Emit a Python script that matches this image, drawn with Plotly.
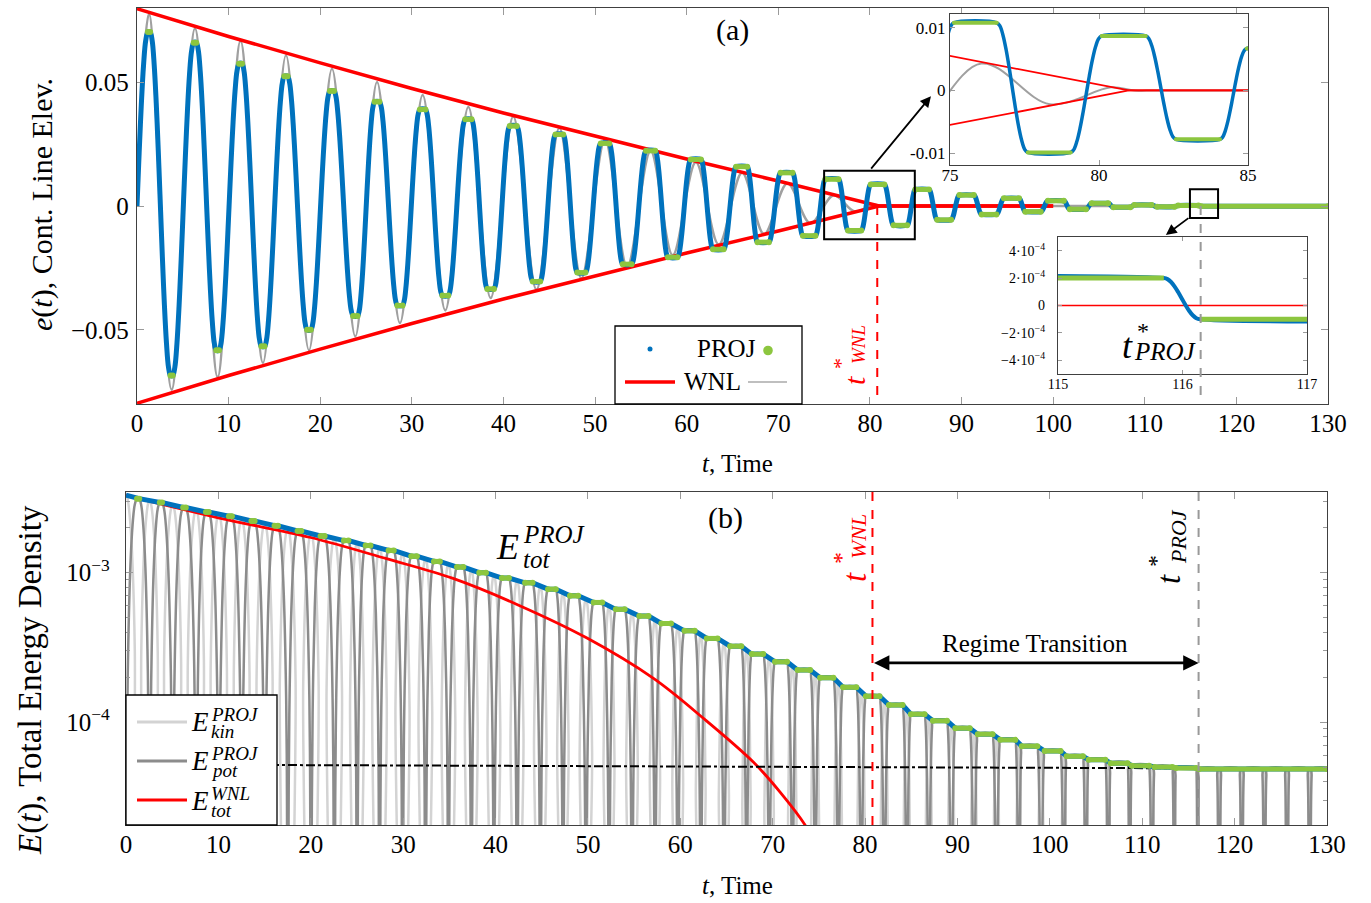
import math
import plotly.graph_objects as go

W, H = 1371, 903
FONT = "Liberation Serif"

# ---------------- data ----------------
# Panel (a): PROJ contact-line elevation, times / values of the plateaus (extrema)
ext_t = [1.31, 3.78, 6.33, 8.8, 11.3, 13.75, 16.26, 18.77,
         21.28, 23.83, 26.2, 28.7, 31.18, 33.65, 36.17, 38.6,
         41.07, 43.6, 46.1, 48.5, 51.08, 53.5, 56.06, 58.47,
         61.0, 63.45, 66.0, 68.35, 70.9, 73.37, 75.85, 78.33, 80.83,
         83.32, 85.7, 88.1, 90.55, 93.0, 95.45, 97.8, 100.3, 102.7, 105.1, 107.5, 109.8, 112.3, 114.75]
proj_ext = [0.0703, -0.0685, 0.0660, -0.0583, 0.0575, -0.0567, 0.0524, -0.0500,
            0.0465, -0.0444, 0.0421, -0.0402, 0.0390, -0.0362, 0.0350, -0.0335,
            0.0323, -0.0305, 0.0289, -0.0269, 0.0253, -0.0235, 0.0223, -0.0207,
            0.0188, -0.0175, 0.0159, -0.0146, 0.0134, -0.0120, 0.0108, -0.0099, 0.0087,
            -0.0078, 0.0067, -0.0056, 0.0044, -0.0034, 0.0031, -0.0023, 0.0021, -0.0013, 0.0011, -0.0005, 0.0004, -0.0003, 0.0002]
plateau_hw = [0.12, 0.12, 0.14, 0.15, 0.16, 0.17, 0.18, 0.20,
              0.22, 0.24, 0.26, 0.28, 0.30, 0.32, 0.34, 0.36,
              0.38, 0.40, 0.42, 0.44, 0.46, 0.48, 0.50, 0.52,
              0.55, 0.58, 0.60, 0.62, 0.65, 0.68, 0.72, 0.72, 0.74,
              0.74, 0.74, 0.76, 0.78, 0.80, 0.82, 0.84, 0.86, 0.88, 0.90, 0.92, 0.94, 0.96, 1.10]
proj_tail_t = [116.14, 130.0]
proj_tail_v = -0.0001

# WNL solution (grey) extrema and WNL amplitude envelope (red)
gray_t = [0, 1.31, 3.78, 6.33, 8.8, 11.3, 13.75, 16.26, 18.77, 21.28,
          23.83, 26.2, 28.7, 31.18, 33.65, 36.17, 38.6, 41.07, 43.6, 46.1,
          48.5, 51.08, 53.5, 56.06, 58.47, 61.0, 63.5, 66.05, 68.45, 71.0,
          73.5, 76.05, 78.35, 80.4, 81.2, 82.0, 130]
gray_v = [0, 0.0777, -0.0742, 0.0717, -0.0691, 0.0667, -0.0634, 0.0609, -0.0583, 0.0555,
          -0.0527, 0.0501, -0.0473, 0.0448, -0.0422, 0.0400, -0.0372, 0.0362, -0.0338, 0.0315,
          -0.0292, 0.0268, -0.0245, 0.0222, -0.0199, 0.0177, -0.0156, 0.0134, -0.0114, 0.0092,
          -0.0070, 0.0043, -0.0022, 0.0005, 0, 0, 0]
env_t = [0, 10, 20, 30, 40, 50, 60, 70, 81.0, 100]
env_v = [0.0797, 0.0685, 0.0578, 0.0475, 0.0376, 0.0282, 0.0190, 0.0101, 0.0, 0.0]
zero_t = [115, 117]
zero_v = [0, 0]
t_wnl = 80.8
t_proj = 116.1

# Panel (b): total energy of PROJ at each plateau, WNL energy, dash-dot level
E_start = 3.3e-3
etot_ext = [3.13e-3, 2.95e-3, 2.73e-3, 2.55e-3, 2.39e-3, 2.22e-3, 2.06e-3, 1.90e-3,
            1.76e-3, 1.64e-3, 1.52e-3, 1.41e-3, 1.29e-3, 1.19e-3, 1.09e-3, 1.00e-3,
            9.2e-4, 8.55e-4, 7.76e-4, 7.0e-4, 6.32e-4, 5.68e-4, 5.12e-4, 4.57e-4,
            4.08e-4, 3.63e-4, 3.22e-4, 2.85e-4, 2.53e-4, 2.23e-4, 1.98e-4, 1.71e-4, 1.49e-4,
            1.30e-4, 1.13e-4, 1.02e-4, 9.1e-5, 8.3e-5, 7.6e-5, 6.9e-5, 6.4e-5, 5.9e-5, 5.6e-5, 5.3e-5, 5.1e-5, 5.0e-5, 4.92e-5]
etot_tail = 4.85e-5
# kinetic / potential exchange keeps going after t*_PROJ
tail_t = [117.1, 119.55, 122.0, 124.45, 126.9, 129.35, 131.8]
tail_v = [-1e-4, 1e-4, -1e-4, 1e-4, -1e-4, 1e-4, -1e-4]
tail_hw = [0.96, 0.96, 0.96, 0.96, 0.96, 0.96, 0.96]
tail_E = [4.85e-5, 4.85e-5, 4.85e-5, 4.85e-5, 4.85e-5, 4.85e-5, 4.85e-5]
wnl_t = [0, 10, 20, 28.2, 35.4, 42.5, 49.9, 57.1, 62.5, 67.9, 70.8, 73.5, 75.5]
wnl_E = [3.3e-3, 2.33e-3, 1.72e-3, 1.24e-3, 9.15e-4, 6.06e-4, 3.65e-4, 1.96e-4, 1.06e-4, 5.4e-5, 3.4e-5, 2.05e-5, 1.2e-5]
dd_t = [0, 116.1]
dd_E = [5.2e-5, 4.9e-5]

# tick labels
x_ticks = [0, 10, 20, 30, 40, 50, 60, 70, 80, 90, 100, 110, 120, 130]
ya_ticks = [-0.05, 0, 0.05]
ya_text = ["\u22120.05", "0", "0.05"]
yb_ticks = [1e-4, 1e-3]
yb_text = ["10<sup>\u22124</sup>", "10<sup>\u22123</sup>"]
yb_minor = [3e-5, 4e-5, 5e-5, 6e-5, 7e-5, 8e-5, 9e-5, 2e-4, 3e-4, 4e-4, 5e-4, 6e-4, 7e-4, 8e-4, 9e-4, 2e-3, 3e-3]
in1_x = [75, 80, 85]
in1_y = [-0.01, 0, 0.01]
in1_ytext = ["-0.01", "0", "0.01"]
in2_x = [115, 116, 117]
in2_y = [-4e-4, -2e-4, 0, 2e-4, 4e-4]
in2_ytext = ["\u22124\u00b710<sup>\u22124</sup>", "\u22122\u00b710<sup>\u22124</sup>", "0",
             "2\u00b710<sup>\u22124</sup>", "4\u00b710<sup>\u22124</sup>"]

# ---------------- drawing style constants ----------------
BLUE = "#0072BD"
GREEN = "#8CC63F"
RED = "#FF0000"
GRAY = "#A0A0A0"
# normalised shape of a swing between two plateaus (drawing style)
PROFILE_F = [0.0, 0.1, 0.2, 0.3, 0.4, 0.45, 0.5, 0.55, 0.6, 0.7, 0.8, 0.9, 1.0]
PROFILE_S = [0.0, 0.0245, 0.0955, 0.2061, 0.3455, 0.4218, 0.5, 0.5782, 0.6545, 0.7939, 0.9045, 0.9755, 1.0]
FLOOR = 1e-8


def swing(ta, tb, va, vb, Ea, Eb, f0, out):
    for f, s in zip(PROFILE_F, PROFILE_S):
        if f >= 1.0:
            continue
        if not (f > f0 or (f0 > 0 and f == f0)):
            continue
        g = (f - f0) / (1 - f0)
        t = ta + g * (tb - ta)
        e = va + (vb - va) * s
        E = Ea ** (1 - g) * Eb ** g
        if abs(e) < 1e-15:
            Ep = FLOOR
        else:
            ref = va if e * va > 0 else vb
            Ep = E * min(1.0, (e / ref) ** 2)
        Ek = max(E - Ep, FLOOR)
        Ep = max(Ep, FLOOR)
        out[0].append(t); out[1].append(e); out[2].append(Ep); out[3].append(Ek)


# --- e(t) of PROJ (panel a) ---
Lk = [t - h for t, h in zip(ext_t, plateau_hw)]
Rk = [t + h for t, h in zip(ext_t, plateau_hw)]
n = len(ext_t)
ecur = ([], [], [], [])
g_t, g_v, gE_t, gE_v = [], [], [], []
tot_t, tot_E = [0.0], [E_start]
swing(0.0, Lk[0], -proj_ext[0], proj_ext[0], E_start, etot_ext[0], 0.5, ecur)
for k in range(n):
    v, E = proj_ext[k], etot_ext[k]
    ecur[0].extend([Lk[k], Rk[k]]); ecur[1].extend([v, v])
    ecur[2].extend([E, E]); ecur[3].extend([FLOOR, FLOOR])
    tot_t += [Lk[k], Rk[k]]; tot_E += [E, E]
    g_t += [Lk[k], Rk[k], None]; g_v += [v, v, None]
    gE_t += [Lk[k], Rk[k], None]; gE_v += [E, E, None]
    if k < n - 1:
        swing(Rk[k], Lk[k + 1], v, proj_ext[k + 1], E, etot_ext[k + 1], 0.0, ecur)
    else:
        swing(Rk[k], proj_tail_t[0], v, proj_tail_v, E, etot_tail, 0.0, ecur)
e_t = ecur[0] + proj_tail_t
e_v = ecur[1] + [proj_tail_v, proj_tail_v]
tot_t += proj_tail_t; tot_E += [etot_tail, etot_tail]
g_t += proj_tail_t; g_v += [proj_tail_v, proj_tail_v]
gE_t += proj_tail_t; gE_v += [etot_tail, etot_tail]

# --- kinetic / potential energies (panel b) ---
en_t = ext_t + tail_t
en_v = proj_ext + tail_v
en_E = etot_ext + tail_E
en_hw = plateau_hw + tail_hw
ELk = [t - h for t, h in zip(en_t, en_hw)]
ERk = [t + h for t, h in zip(en_t, en_hw)]
ecur2 = ([], [], [], [])
swing(0.0, ELk[0], -en_v[0], en_v[0], E_start, en_E[0], 0.5, ecur2)
for k in range(len(en_t)):
    v, E = en_v[k], en_E[k]
    ecur2[0].extend([ELk[k], ERk[k]]); ecur2[1].extend([v, v])
    ecur2[2].extend([E, E]); ecur2[3].extend([FLOOR, FLOOR])
    if k < len(en_t) - 1:
        swing(ERk[k], ELk[k + 1], v, en_v[k + 1], E, en_E[k + 1], 0.0, ecur2)
p_t, p_E, k_E = ecur2[0], ecur2[2], ecur2[3]

fig = go.Figure()


def sc(x, y, xa, ya, **kw):
    fig.add_trace(go.Scatter(x=x, y=y, xaxis=xa, yaxis=ya, showlegend=False,
                             hoverinfo="skip", **kw))


neg_env = [-v for v in env_v]
# ---- panel (a) main ----
sc(gray_t, gray_v, "x", "y", mode="lines", line=dict(color=GRAY, width=2.5, shape="spline"))
sc(env_t, env_v, "x", "y", mode="lines", line=dict(color=RED, width=3.5))
sc(env_t, neg_env, "x", "y", mode="lines", line=dict(color=RED, width=3.5))
sc(e_t, e_v, "x", "y", mode="lines", line=dict(color=BLUE, width=5, shape="spline"))
sc(g_t, g_v, "x", "y", mode="lines+markers", line=dict(color=GREEN, width=5),
   marker=dict(color=GREEN, size=6))
# ---- inset 1 ----
sc(gray_t, gray_v, "x3", "y3", mode="lines", line=dict(color=GRAY, width=2, shape="spline"))
sc(env_t, env_v, "x3", "y3", mode="lines", line=dict(color=RED, width=1.8))
sc(env_t, neg_env, "x3", "y3", mode="lines", line=dict(color=RED, width=1.8))
sc(e_t, e_v, "x3", "y3", mode="lines", line=dict(color=BLUE, width=3.5, shape="spline"))
sc(g_t, g_v, "x3", "y3", mode="lines+markers", line=dict(color=GREEN, width=4),
   marker=dict(color=GREEN, size=4))
# ---- inset 2 ----
sc(zero_t, zero_v, "x4", "y4", mode="lines", line=dict(color=RED, width=1.5))
sc(e_t, e_v, "x4", "y4", mode="lines", line=dict(color=BLUE, width=4, shape="spline"))
sc(g_t, g_v, "x4", "y4", mode="lines", line=dict(color=GREEN, width=5))
# ---- panel (b) ----
sc(p_t, k_E, "x2", "y2", mode="lines", line=dict(color="#D3D3D3", width=2.5, shape="spline"))
sc(p_t, p_E, "x2", "y2", mode="lines", line=dict(color="#8C8C8C", width=2.5, shape="spline"))
sc(wnl_t, wnl_E, "x2", "y2", mode="lines", line=dict(color=RED, width=2.8, shape="spline"))
sc(dd_t, dd_E, "x2", "y2", mode="lines", line=dict(color="black", width=2, dash="dashdot"))
sc(tot_t, tot_E, "x2", "y2", mode="lines", line=dict(color=BLUE, width=5))
sc(gE_t, gE_v, "x2", "y2", mode="lines+markers", line=dict(color=GREEN, width=5),
   marker=dict(color=GREEN, size=6))


def px(x):
    return x / W


def py(y):
    return 1 - y / H


common = dict(showline=True, linecolor="#404040", linewidth=1.3, mirror="ticks",
              ticks="inside", ticklen=7, tickwidth=1.2, tickcolor="#9A9A9A",
              showgrid=False, zeroline=False, automargin=False,
              tickfont=dict(family=FONT, size=25, color="black"))
small1 = dict(common, ticklen=5, tickfont=dict(family=FONT, size=17, color="black"))
small2 = dict(common, ticklen=4, tickfont=dict(family=FONT, size=14, color="black"))

fig.update_layout(
    width=W, height=H, margin=dict(l=0, r=0, t=0, b=0),
    paper_bgcolor="white", plot_bgcolor="white", showlegend=False,
    xaxis=dict(common, domain=[px(137), px(1328)], range=[0, 130], anchor="y",
               tickvals=x_ticks, ticklabelstandoff=-3),
    yaxis=dict(common, domain=[py(404), py(8)], range=[-0.08, 0.08], anchor="x",
               tickvals=ya_ticks, ticktext=ya_text, ticklabelstandoff=2),
    xaxis2=dict(common, domain=[px(126), px(1327)], range=[0, 130], anchor="y2",
                tickvals=x_ticks, ticklabelstandoff=-3),
    yaxis2=dict(common, domain=[py(825), py(492)], type="log", range=[-4.689, -2.46],
                anchor="x2", tickvals=yb_ticks, ticktext=yb_text, ticklabelstandoff=10,
                minor=dict(tickvals=yb_minor, ticks="inside", ticklen=4, tickcolor="#9A9A9A")),
    xaxis3=dict(small1, domain=[px(950), px(1248)], range=[75, 85], anchor="y3",
                tickvals=in1_x, ticklabelstandoff=-6),
    yaxis3=dict(small1, domain=[py(165), py(14)], range=[-0.0119, 0.0122], anchor="x3",
                tickvals=in1_y, ticktext=in1_ytext, ticklabelstandoff=0),
    xaxis4=dict(small2, domain=[px(1058), px(1307)], range=[115, 117], anchor="y4",
                tickvals=in2_x, ticklabelstandoff=-3),
    yaxis4=dict(small2, domain=[py(374), py(237)], range=[-5e-4, 5e-4], anchor="x4",
                tickvals=in2_y, ticktext=in2_ytext, ticklabelstandoff=9),
)

shapes = []


def prect(x0, y0, x1, y1, **kw):
    shapes.append(dict(type="rect", xref="paper", yref="paper", x0=px(x0), x1=px(x1),
                       y0=py(y0), y1=py(y1), **kw))


def pline(x0, y0, x1, y1, color, width):
    shapes.append(dict(type="line", xref="paper", yref="paper", x0=px(x0), x1=px(x1),
                       y0=py(y0), y1=py(y1), line=dict(color=color, width=width)))


def pcircle(x, y, r, color):
    shapes.append(dict(type="circle", xref="paper", yref="paper", x0=px(x - r), x1=px(x + r),
                       y0=py(y + r), y1=py(y - r), fillcolor=color, line=dict(width=0)))


# zoom boxes in panel (a)
shapes.append(dict(type="rect", xref="x", yref="y", x0=75.0, x1=84.9, y0=-0.0134, y1=0.0142,
                   line=dict(color="black", width=2)))
shapes.append(dict(type="rect", xref="x", yref="y", x0=114.93, x1=118.0, y0=-0.00484, y1=0.00673,
                   line=dict(color="black", width=2)))
# t* markers
shapes.append(dict(type="line", xref="x", yref="y", x0=t_wnl, x1=t_wnl, y0=0, y1=-0.08,
                   line=dict(color=RED, width=2, dash="dash")))
shapes.append(dict(type="line", xref="x", yref="y", x0=t_proj, x1=t_proj, y0=0, y1=-0.08,
                   line=dict(color="#999999", width=2, dash="dash")))
shapes.append(dict(type="line", xref="x2", yref="y2 domain", x0=t_wnl, x1=t_wnl, y0=0, y1=1,
                   line=dict(color=RED, width=2, dash="dash")))
shapes.append(dict(type="line", xref="x2", yref="y2 domain", x0=t_proj, x1=t_proj, y0=0, y1=1,
                   line=dict(color="#999999", width=2, dash="dash")))
# legend (a)
prect(615, 326, 802, 404, fillcolor="white", line=dict(color="black", width=1.3))
pcircle(650, 349, 2.5, BLUE)
pcircle(768, 350.5, 4.8, GREEN)
pline(625, 382, 675, 382, RED, 3.5)
pline(748, 382, 787, 382, "#AAAAAA", 1.5)
# legend (b)
prect(126, 695, 277, 825, fillcolor="white", line=dict(color="black", width=1.3))
pline(137, 722, 187, 722, "#D3D3D3", 3)
pline(137, 761, 187, 761, "#8C8C8C", 3)
pline(137, 800, 187, 800, RED, 3)

ann = []


def text(x, y, s, size, color="black", angle=0, xanchor="center", yanchor="middle"):
    ann.append(dict(x=px(x), y=py(y), xref="paper", yref="paper", text=s, showarrow=False,
                    font=dict(family=FONT, size=size, color=color), textangle=angle,
                    xanchor=xanchor, yanchor=yanchor))


# axis titles
text(737, 463, "<i>t</i>, Time", 25)
text(737, 885, "<i>t</i>, Time", 25)
text(42, 205, "<i>e</i>(<i>t</i>), Cont. Line Elev.", 30, angle=-90)
text(30, 680, "<i>E</i>(<i>t</i>), Total Energy Density", 33, angle=-90)
# panel labels
text(732, 30, "(a)", 30)
text(725, 518, "(b)", 30)
# legend (a) text
text(726, 348, "PROJ", 25)
text(712, 381, "WNL", 25)
# legend (b) text
for yc, sup, sub in [(722, "PROJ", "kin"), (761, "PROJ", "pot"), (801, "WNL", "tot")]:
    text(200, yc, "<i>E</i>", 27)
    text(209, yc - 8, "<i>" + sup + "</i>", 19, xanchor="left")
    text(209, yc + 9, "<i>" + sub + "</i>", 19, xanchor="left")
# E_tot^PROJ label
text(508, 547, "<i>E</i>", 36)
text(521, 534, "<i>PROJ</i>", 25, xanchor="left")
text(521, 559, "<i>tot</i>", 25, xanchor="left")
# t* labels (rotated)
text(854, 380, "<i>t</i>", 30, RED, -90)
text(840, 364, "*", 22, RED, -90)
text(859, 345, "<i>WNL</i>", 19, RED, -90)
text(855, 577, "<i>t</i>", 33, RED, -90)
text(841, 558, "*", 24, RED, -90)
text(858, 537, "<i>WNL</i>", 22, RED, -90)
text(1169, 579, "<i>t</i>", 33, "black", -90)
text(1156, 561, "*", 24, "black", -90)
text(1178, 537, "<i>PROJ</i>", 22, "black", -90)
# t*_PROJ in inset 2
text(1127, 346, "<i>t</i>", 36)
text(1143, 331, "*", 24)
text(1132, 352, "<i>PROJ</i>", 25, xanchor="left")
# regime transition
text(1035, 643, "Regime Transition", 25)
ann.append(dict(x=t_proj, y=math.log10(2.49e-4), ax=t_wnl, ay=math.log10(2.49e-4),
                xref="x2", yref="y2", axref="x2", ayref="y2", text="", showarrow=True,
                arrowhead=2, arrowside="end+start", arrowsize=1.1, arrowwidth=2.8,
                arrowcolor="black"))
# zoom arrows
ann.append(dict(x=86.66, y=0.04435, ax=80.0, ay=0.01452, xref="x", yref="y", axref="x",
                ayref="y", text="", showarrow=True, arrowhead=2, arrowsize=1.2,
                arrowwidth=1.8, arrowcolor="black"))
ann.append(dict(x=112.3, y=-0.01169, ax=114.93, ay=-0.00444, xref="x", yref="y", axref="x",
                ayref="y", text="", showarrow=True, arrowhead=2, arrowsize=1.2,
                arrowwidth=1.8, arrowcolor="black"))

fig.update_layout(shapes=shapes, annotations=ann)
fig.write_html("out.html", config={"displayModeBar": False},
               post_script="document.body.style.margin='0px';")
